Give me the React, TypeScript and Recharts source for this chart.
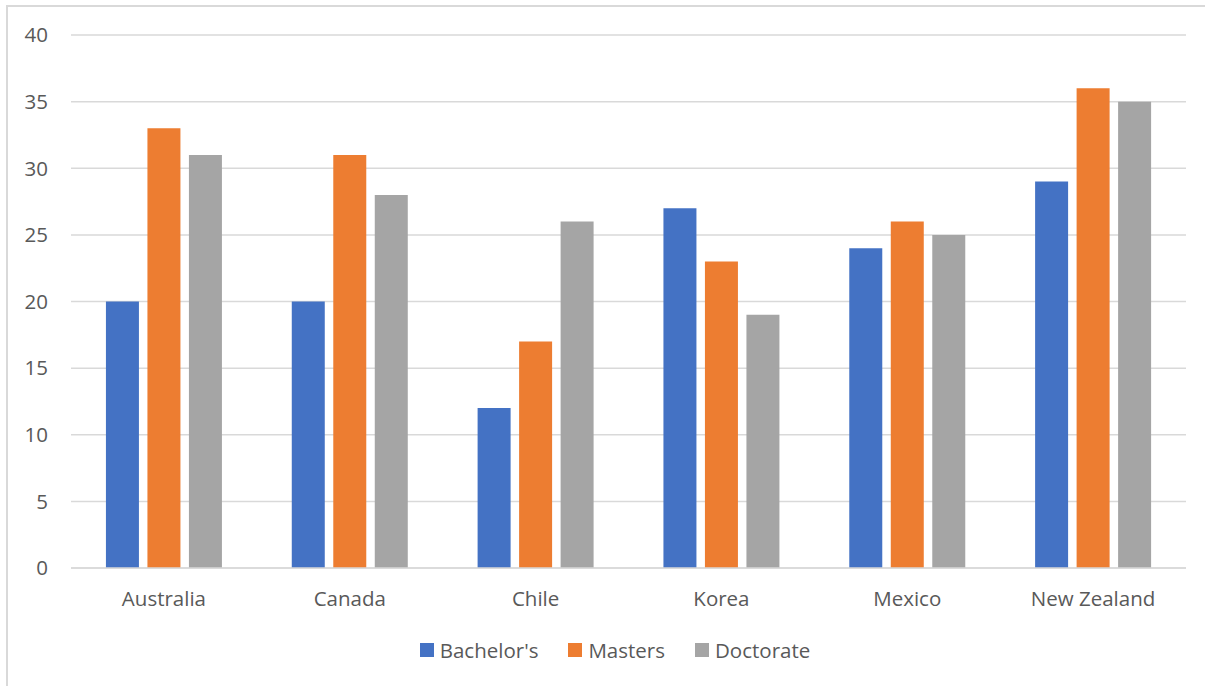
import React from "react";
import { BarChart, Bar, XAxis, YAxis, CartesianGrid, Legend } from "recharts";

const categories = ["Australia", "Canada", "Chile", "Korea", "Mexico", "New Zealand"];
const bachelors = [20, 20, 12, 27, 24, 29];
const masters = [33, 31, 17, 23, 26, 36];
const doctorate = [31, 28, 26, 19, 25, 35];
const yTicks = [0, 5, 10, 15, 20, 25, 30, 35, 40];

const seriesInfo = [
  { key: "bachelors", name: "Bachelor's", color: "#4472C4" },
  { key: "masters", name: "Masters", color: "#ED7D31" },
  { key: "doctorate", name: "Doctorate", color: "#A5A5A5" },
];

const data = categories.map((c, i) => ({
  name: c,
  bachelors: bachelors[i],
  masters: masters[i],
  doctorate: doctorate[i],
}));

const FONT = "'Open Sans', sans-serif";
const TEXT = "#595959";
const FS = 20.5;

const LegendContent = () => (
  <div style={{ display: "flex", justifyContent: "center", alignItems: "center", fontFamily: FONT, fontSize: FS, color: TEXT }}>
    {seriesInfo.map((s, i) => (
      <div key={s.key} style={{ display: "flex", alignItems: "center", marginRight: i < seriesInfo.length - 1 ? 30 : 0 }}>
        <div style={{ width: 14, height: 14, background: s.color, marginRight: 6 }} />
        <span>{s.name}</span>
      </div>
    ))}
  </div>
);

export default function App() {
  return (
    <div style={{ position: "absolute", left: 0, top: 0, width: 1205, height: 686, background: "#fff", overflow: "hidden" }}>
      <div style={{ position: "absolute", left: 6, top: 5, width: 1300, height: 800, borderLeft: "2px solid #d9d9d9", borderTop: "2px solid #d9d9d9" }} />
      <div style={{ position: "absolute", left: 0, top: 0 }}>
        <BarChart
          width={1205}
          height={686}
          data={data}
          margin={{ top: 35, right: 19, left: 0, bottom: 58 }}
          barCategoryGap="18.8%"
          barGap={8.5}
        >
          <CartesianGrid vertical={false} stroke="#d9d9d9" strokeWidth={1.5} />
          <XAxis
            dataKey="name"
            height={60}
            tickLine={false}
            tickSize={0}
            tickMargin={23}
            axisLine={{ stroke: "#d9d9d9", strokeWidth: 1.5 }}
            tick={{ fill: TEXT, fontSize: FS, fontFamily: FONT }}
            interval={0}
          />
          <YAxis
            width={71}
            domain={[0, 40]}
            ticks={yTicks}
            axisLine={false}
            tickLine={false}
            tickSize={0}
            tickMargin={23}
            tick={{ fill: TEXT, fontSize: FS, fontFamily: FONT }}
          />
          <Legend
            content={<LegendContent />}
            wrapperStyle={{ position: "absolute", left: 0, top: 636, width: 1230, height: 0, overflow: "visible" }}
          />
          {seriesInfo.map((s) => (
            <Bar key={s.key} dataKey={s.key} name={s.name} fill={s.color} isAnimationActive={false} />
          ))}
        </BarChart>
      </div>
    </div>
  );
}
